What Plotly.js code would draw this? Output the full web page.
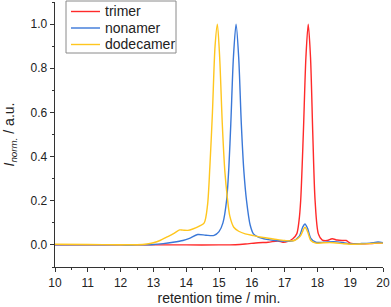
<!DOCTYPE html>
<html>
<head>
<meta charset="utf-8">
<script src="https://cdn.plot.ly/plotly-3.0.1.min.js"></script>
<style>html,body{margin:0;padding:0;background:#fff;}#chart{width:391px;height:307px;}</style>
</head>
<body>
<div id="chart"></div>
<script>
const seriesNames = ["trimer", "nonamer", "dodecamer"];

const trimerT = [10, 11, 12, 13, 14, 15, 15.5, 15.8, 16.2, 16.5, 16.8, 16.95, 17.1, 17.25, 17.37, 17.44, 17.49, 17.57, 17.65, 17.72, 17.79, 17.86, 17.93, 18.03, 18.15, 18.3, 18.45, 18.6, 18.75, 18.88, 19.0, 19.3, 19.6, 20];
const trimerY = [0, 0, 0, 0, 0, 0, 0.001, 0.004, 0.01, 0.012, 0.018, 0.012, 0.016, 0.028, 0.05, 0.11, 0.2, 0.5, 0.85, 1.0, 0.85, 0.5, 0.2, 0.05, 0.022, 0.02, 0.028, 0.022, 0.02, 0.02, 0.008, 0.005, 0.006, 0.01];

const nonamerT = [10, 11, 12, 12.5, 13, 13.3, 13.6, 13.9, 14.1, 14.35, 14.6, 14.85, 15.0, 15.12, 15.23, 15.3, 15.36, 15.44, 15.52, 15.6, 15.68, 15.76, 15.84, 15.95, 16.05, 16.2, 16.45, 16.7, 17.0, 17.25, 17.45, 17.55, 17.62, 17.7, 17.8, 17.95, 18.2, 18.5, 18.8, 19.0, 19.3, 19.6, 19.85, 20];
const nonamerY = [0, 0, 0, 0, 0.002, 0.006, 0.012, 0.02, 0.03, 0.047, 0.044, 0.043, 0.06, 0.1, 0.2, 0.35, 0.55, 0.85, 1.0, 0.85, 0.55, 0.33, 0.2, 0.09, 0.05, 0.035, 0.025, 0.02, 0.017, 0.018, 0.04, 0.08, 0.095, 0.075, 0.03, 0.012, 0.012, 0.015, 0.01, 0.005, 0.006, 0.008, 0.013, 0.01];

const dodecamerT = [10, 11, 12, 12.5, 12.8, 13.0, 13.2, 13.4, 13.6, 13.8, 13.9, 14.05, 14.2, 14.4, 14.55, 14.65, 14.72, 14.8, 14.88, 14.95, 15.02, 15.1, 15.18, 15.25, 15.33, 15.45, 15.6, 15.8, 16.05, 16.3, 16.66, 17.0, 17.3, 17.48, 17.56, 17.62, 17.7, 17.8, 17.95, 18.2, 18.5, 18.8, 19.0, 19.3, 19.6, 19.85, 20];
const dodecamerY = [0.003, 0.002, 0.001, 0.001, 0.004, 0.01, 0.02, 0.035, 0.05, 0.068, 0.067, 0.066, 0.072, 0.085, 0.1, 0.18, 0.35, 0.6, 0.9, 1.0, 0.85, 0.55, 0.33, 0.22, 0.13, 0.08, 0.062, 0.05, 0.042, 0.035, 0.027, 0.02, 0.02, 0.04, 0.065, 0.08, 0.06, 0.02, 0.008, 0.01, 0.01, 0.005, 0.003, 0.004, 0.006, 0.008, 0.008];

const colors = ["#ff2a2a", "#3a78d8", "#ffc61e"];

const xs = [trimerT, nonamerT, dodecamerT];
const ys = [trimerY, nonamerY, dodecamerY];

const traces = seriesNames.map((n, i) => ({
  type: "scatter", mode: "lines", name: n,
  x: xs[i], y: ys[i],
  line: {color: colors[i], width: 1.4, shape: "spline", smoothing: 0.8}
}));

const W = 391, H = 307, M = {l: 55, r: 8, t: 2, b: 40};
const pw = W - M.l - M.r, ph = H - M.t - M.b;
const px = v => (v - M.l) / pw;        // pixel -> paper x
const py = v => 1 - (v - M.t) / ph;    // pixel -> paper y

const fontFam = "Liberation Sans, Arial, sans-serif";

// legend drawn as layout decoration
const legBox = {x0: 66, x1: 176, y0: 1, y1: 53};
const legRows = [11.5, 28, 44.5];
const shapes = [{
  type: "rect", xref: "paper", yref: "paper",
  x0: px(legBox.x0), x1: px(legBox.x1), y0: py(legBox.y1), y1: py(legBox.y0),
  line: {color: "#8a8a8a", width: 1}, fillcolor: "#fff", layer: "above"
}];
const annotations = [];
seriesNames.forEach((n, i) => {
  shapes.push({type: "line", xref: "paper", yref: "paper",
    x0: px(71), x1: px(100), y0: py(legRows[i]), y1: py(legRows[i]),
    line: {color: colors[i], width: 1.4}, layer: "above"});
  annotations.push({xref: "paper", yref: "paper", x: px(103), y: py(legRows[i]),
    xanchor: "left", yanchor: "middle", text: n, showarrow: false,
    font: {family: fontFam, size: 14, color: "#222"}});
});

const layout = {
  width: W, height: H,
  margin: M,
  paper_bgcolor: "#fff", plot_bgcolor: "#fff",
  font: {family: fontFam, size: 12, color: "#222"},
  showlegend: false,
  shapes: shapes,
  annotations: annotations,
  xaxis: {
    range: [10, 20], dtick: 1, tick0: 10,
    showgrid: false, zeroline: false,
    showline: true, linecolor: "#333", linewidth: 1.3,
    ticks: "outside", ticklen: 4, tickwidth: 1, tickcolor: "#333",
    minor: {dtick: 0.5, ticks: "outside", ticklen: 2, tickcolor: "#333", showgrid: false},
    tickfont: {size: 12, color: "#222"},
    title: {text: "retention time / min.", font: {size: 14, color: "#222"}, standoff: 0}
  },
  yaxis: {
    range: [-0.1, 1.1], dtick: 0.2, tick0: 0, tickformat: ".1f",
    showgrid: false, zeroline: false,
    showline: true, linecolor: "#333", linewidth: 1.3,
    ticks: "outside", ticklen: 4, tickwidth: 1, tickcolor: "#333",
    minor: {dtick: 0.1, ticks: "outside", ticklen: 2, tickcolor: "#333", showgrid: false},
    tickfont: {size: 12, color: "#222"},
    title: {text: "<i>I</i><sub><i>norm.</i></sub> / a.u.", font: {size: 14, color: "#222"}, standoff: 12}
  }
};

Plotly.newPlot("chart", traces, layout, {displayModeBar: false, staticPlot: true});
</script>
</body>
</html>
